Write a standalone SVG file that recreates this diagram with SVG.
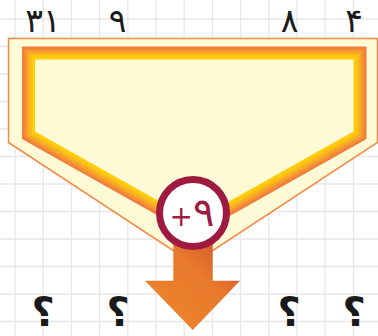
<svg xmlns="http://www.w3.org/2000/svg" width="378" height="336" viewBox="0 0 378 336">
  <defs>
    <style>
      .grid { stroke: #e7e7e7; stroke-width: 1.3; fill: none; }
      .num { font-family: "DejaVu Sans", "Noto Sans", sans-serif; font-size: 33px; fill: #1a1a1a; text-anchor: middle; }
      .q { font-family: "DejaVu Sans", "Noto Sans", sans-serif; font-size: 40px; font-weight: bold; fill: #1a1a1a; text-anchor: middle; }
      .band { fill: none; stroke-linejoin: miter; }
    </style>
    <path id="inner" d="M35,59.5 H353.5 V131.5 L194.2,221 L35,131.5 Z"/>
    <linearGradient id="arrowGrad" x1="1" y1="0" x2="0" y2="1">
      <stop offset="0" stop-color="#c94d30"/>
      <stop offset="0.4" stop-color="#e87a2c"/>
      <stop offset="1" stop-color="#ef852a"/>
    </linearGradient>
  </defs>

  <rect x="0" y="0" width="378" height="336" fill="#ffffff"/>

  <g id="grid">
    <path class="grid" d="M15,0V336 M43.2,0V336 M71.4,0V336 M99.6,0V336 M127.8,0V336 M156,0V336 M184.2,0V336 M212.4,0V336 M240.6,0V336 M268.8,0V336 M297,0V336 M325.2,0V336 M353.4,0V336
      M0,19H378 M0,46.5H378 M0,74H378 M0,101.5H378 M0,129H378 M0,156.5H378 M0,184H378 M0,211.5H378 M0,239H378 M0,266.5H378 M0,294H378 M0,321.5H378"/>
  </g>

  <g id="frame">
    <path d="M8.5,38.5 H377.5 V142.5 L193,263.5 L8.5,142.5 Z" fill="#fffad6" stroke="#f28b4a" stroke-width="1.5"/>
    <use href="#inner" class="band" stroke="#f07d3d" stroke-width="26"/>
    <use href="#inner" class="band" stroke="#f39334" stroke-width="21"/>
    <use href="#inner" class="band" stroke="#f7a928" stroke-width="16"/>
    <use href="#inner" class="band" stroke="#fbbe18" stroke-width="11"/>
    <use href="#inner" class="band" stroke="#ffcd06" stroke-width="6"/>
    <use href="#inner" fill="#fffad6"/>
  </g>

  <g id="connectors">
    <path id="arrow" d="M173.3,240 H212.7 V280.7 H240 L192.7,330 L145,280.7 H173.3 Z" fill="url(#arrowGrad)"/>
  </g>

  <g id="operator">
    <circle cx="193" cy="213" r="33.5" fill="#ffffff" stroke="#9e1a40" stroke-width="7"/>
    <text x="192" y="226" font-family="DejaVu Sans, Noto Sans, sans-serif" fill="#9e1a40" text-anchor="middle" direction="ltr"><tspan font-size="28">+</tspan><tspan font-size="40">۹</tspan></text>
  </g>

  <g id="inputs">
    <text class="num" x="43" y="32">۳۱</text>
    <text class="num" x="117.5" y="32">۹</text>
    <text class="num" x="289.5" y="32">۸</text>
    <text class="num" x="354" y="32">۴</text>
  </g>

  <g id="outputs">
    <text class="q" x="43" y="326">؟</text>
    <text class="q" x="118" y="326">؟</text>
    <text class="q" x="289" y="326">؟</text>
    <text class="q" x="354" y="326">؟</text>
  </g>
</svg>
